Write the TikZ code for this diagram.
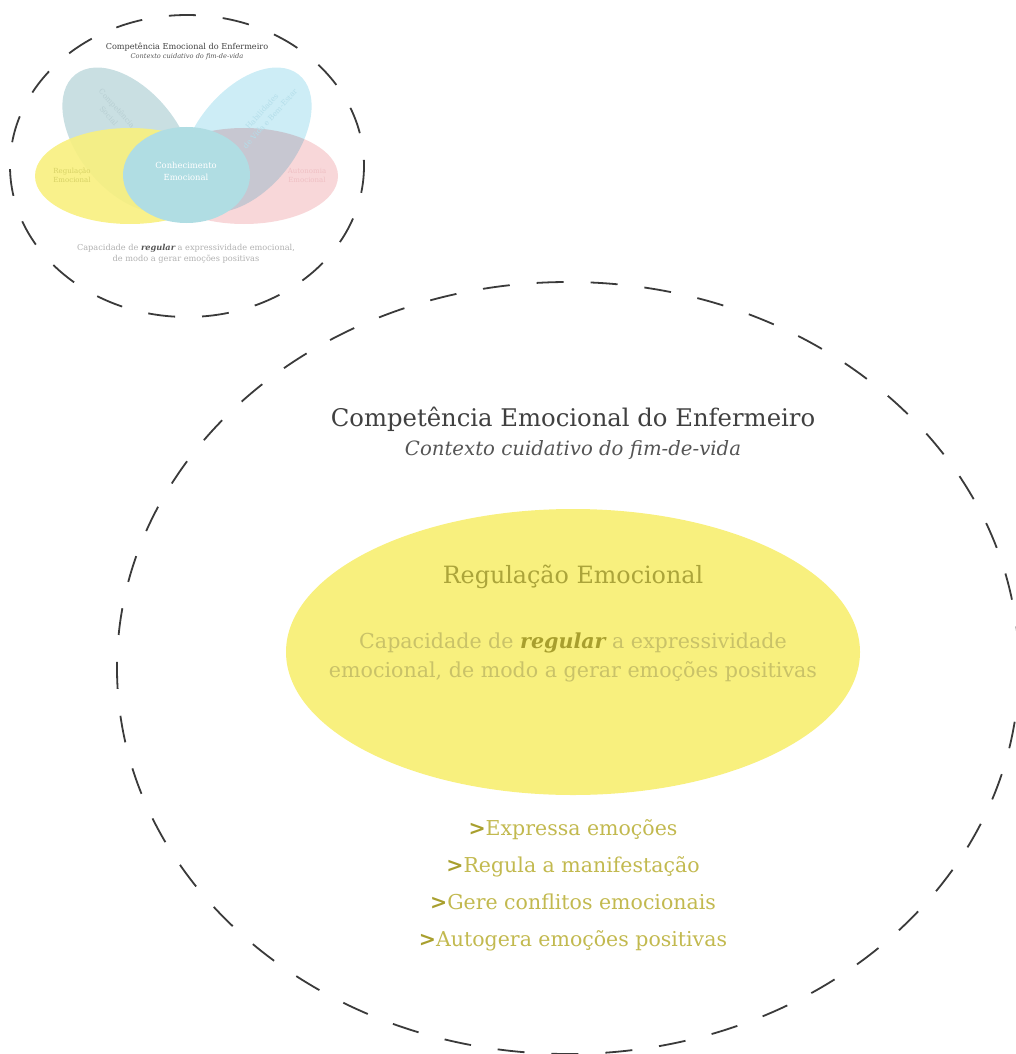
\documentclass[tikz,border=0pt]{standalone}
\usepackage{fontspec}
\setmainfont{DejaVu Serif}
\usetikzlibrary{shapes.geometric}
\definecolor{dashgrey}{HTML}{3A3A3A}
\definecolor{yel}{HTML}{F8F07E}
\definecolor{pinkc}{HTML}{F8D7D9}
\definecolor{circc}{HTML}{B0DDE3}
\definecolor{greyblue}{HTML}{C9DFE2}
\definecolor{lblue}{HTML}{CDEDF6}
\definecolor{titlegrey}{HTML}{404040}
\definecolor{subgrey}{HTML}{555555}
\definecolor{olive}{HTML}{ABA43A}
\definecolor{lolive}{HTML}{C9C268}
\definecolor{bolive}{HTML}{C2B94F}
\definecolor{dolive}{HTML}{A89F2E}
\definecolor{syel}{HTML}{D8D166}
\definecolor{spink}{HTML}{EFC0C4}
\definecolor{sgreyblue}{HTML}{B8CFD3}
\definecolor{sblue}{HTML}{B4DEEA}
\definecolor{sgrey}{HTML}{B0B0B0}
\tikzset{
  dashring/.style={draw=dashgrey, line width=1.8pt, dash pattern=on 27pt off 27pt},
  txt/.style={inner sep=0pt, align=center},
}
\begin{document}
\begin{tikzpicture}[x=1pt,y=-1pt]
\useasboundingbox (0,0) rectangle (1016,1054);
\clip (0,0) rectangle (1016,1054);
% ---------- small diagram ----------
\fill[greyblue] (128,140) ellipse[x radius=84, y radius=50, rotate=-51];
\fill[lblue] (246,140) ellipse[x radius=84, y radius=50, rotate=51];
\fill[yel, opacity=0.9] (130,176) ellipse[x radius=95, y radius=48];
\begin{scope}[blend mode=multiply]
\fill[pinkc] (244,176) ellipse[x radius=94, y radius=48];
\end{scope}
\fill[circc] (186.5,175) ellipse[x radius=63.5, y radius=48];
\draw[dashring] (187,166) ellipse[x radius=177, y radius=151];

\node[txt, font=\fontsize{8.15}{9}\selectfont, text=titlegrey] (st) at (187,47) {Competência Emocional do Enfermeiro};
\node[txt, font=\fontsize{6.6}{7}\itshape, text=subgrey] (ss) at (187,57) {Contexto cuidativo do fim-de-vida};
\node[txt, font=\fontsize{7}{9}\selectfont, text=syel] (sreg) at (72,175) {Regulação\\Emocional};
\node[txt, font=\fontsize{7}{9}\selectfont, text=spink] (saut) at (307,175) {Autonomia\\Emocional};
\node[txt, font=\fontsize{8.4}{12}\selectfont, text=white] (scon) at (186,171) {Conhecimento\\Emocional};
\node[txt, font=\fontsize{7.4}{11}\selectfont, text=sgreyblue, rotate=-48] (ssoc) at (113,112) {Competência\\Social};
\node[txt, font=\fontsize{7.4}{11}\selectfont, text=sblue, rotate=48] (shab) at (266,115) {Habilidades\\de Vida e Bem-Estar};
\node[txt, font=\fontsize{8.2}{11}\selectfont, text=sgrey] (sdesc) at (186,254) {Capacidade de \textcolor{subgrey}{\bfseries\itshape regular} a expressividade emocional,\\de modo a gerar emoções positivas};

% ---------- large diagram ----------
\draw[dashring] (568,668) ellipse[x radius=451, y radius=386];
\node[ellipse, fill=yel, minimum width=574, minimum height=286, inner sep=0pt] (big) at (573,652) {};
\node[txt, font=\fontsize{24.3}{28}\selectfont, text=titlegrey] (bt) at (573,419) {Competência Emocional do Enfermeiro};
\node[txt, font=\fontsize{19.7}{22}\itshape, text=subgrey] (bs) at (573,450) {Contexto cuidativo do fim-de-vida};
\node[txt, font=\fontsize{23.8}{28}\selectfont, text=olive] (breg) at (573,577) {Regulação Emocional};
\node[txt, font=\fontsize{20.6}{29}\selectfont, text=lolive] (bdesc) at (573,657) {Capacidade de \textcolor{dolive}{\bfseries\itshape regular} a expressividade\\emocional, de modo a gerar emoções positivas};
\node[txt, font=\fontsize{20.5}{37}\selectfont, text=bolive] (blist) at (573,885) {\textcolor{dolive}{\bfseries >}Expressa emoções\\\textcolor{dolive}{\bfseries >}Regula a manifestação\\\textcolor{dolive}{\bfseries >}Gere conflitos emocionais\\\textcolor{dolive}{\bfseries >}Autogera emoções positivas};
\end{tikzpicture}
\end{document}
